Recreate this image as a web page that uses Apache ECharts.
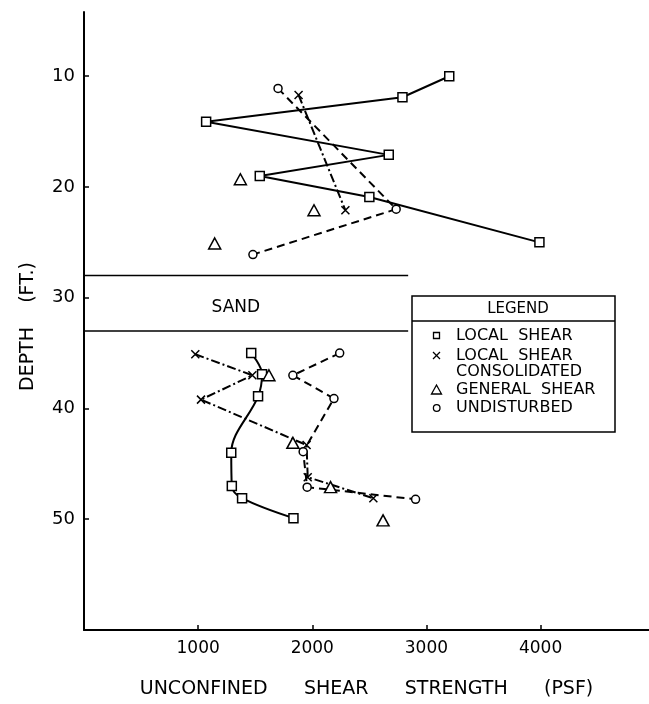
<!DOCTYPE html>
<html>
<head>
<meta charset="utf-8">
<script src="https://cdn.jsdelivr.net/npm/echarts@6/dist/echarts.min.js"></script>
<style>
html,body{margin:0;padding:0;background:#fff;}
#chart{width:649px;height:704px;}
</style>
</head>
<body>
<div id="chart"></div>
<script>
// ---- data (strength in psf, depth in ft) ----
const strengthTicks = [1000, 2000, 3000, 4000];
const depthTicks = [10, 20, 30, 40, 50];

const localShearUpper = [[3200, 10], [2790, 11.9], [1070, 14.1], [2670, 17.1], [1540, 19], [2500, 20.9], [3990, 25]];
const localShearLower = [[1465, 35], [1560, 36.9], [1525, 38.9], [1290, 44], [1295, 47], [1385, 48.1], [1835, 49.9]];
const consolidatedUpper = [[1880, 11.7], [2290, 22.1]];
const consolidatedLower = [[975, 35.1], [1475, 37], [1025, 39.2], [1950, 43.3], [1960, 46.2], [2535, 48.1]];
const generalShear = [[1370, 19.3], [2015, 22.1], [1145, 25.1], [1620, 37], [1830, 43.1], [2160, 47.1], [2620, 50.1]];
const undisturbedUpper = [[1700, 11.1], [2735, 22], [1480, 26.1]];
const undisturbedLower = [[2240, 35], [1830, 37], [2190, 39.1], [1920, 43.9], [1955, 47.1], [2905, 48.2]];

const sandTopDepth = 28;
const sandBottomDepth = 33;
const sandExtent = [0, 2840];
const sandLabelPoint = [1330, 30.9];

const legendTitle = 'LEGEND';
const legendNames = ['LOCAL  SHEAR', 'LOCAL  SHEAR\nCONSOLIDATED', 'GENERAL  SHEAR', 'UNDISTURBED'];

// ---- styles ----
const FONT = 'DejaVu Sans';
const black = '#000';
const symStyle = { color: '#fff', borderColor: black, borderWidth: 1.5, opacity: 1 };
const xSymbol = 'path://M0,0L10,10M10,0L0,10';
const solid = { color: black, width: 2, type: 'solid' };
const dashed = { color: black, width: 2, type: [8, 5] };
const dashDot = { color: black, width: 2, type: [9, 3, 2, 3] };

function lineSeries(data, symbol, size, ls, smooth) {
  return {
    type: 'line', data: data, symbol: symbol, symbolSize: size,
    itemStyle: symStyle, lineStyle: ls, smooth: smooth || false,
    showAllSymbol: true, z: 3, silent: true
  };
}

const chart = echarts.init(document.getElementById('chart'), null, { renderer: 'canvas' });
chart.setOption({
  animation: false,
  backgroundColor: '#fff',
  grid: { left: 84, right: 0, top: 12, bottom: 67, containLabel: false },
  xAxis: {
    type: 'value', min: 0, max: 4950,
    axisLine: { show: true, lineStyle: { color: black, width: 2 } },
    axisTick: { show: true, inside: true, length: 5, customValues: strengthTicks, lineStyle: { color: black, width: 1.5 } },
    axisLabel: { customValues: strengthTicks, formatter: function (v) { return String(v); }, color: black, fontFamily: FONT, fontSize: 17, margin: 10 },
    splitLine: { show: false },
    name: 'UNCONFINED      SHEAR      STRENGTH      (PSF)',
    nameLocation: 'middle', nameGap: 50,
    nameTextStyle: { color: black, fontFamily: FONT, fontSize: 19 }
  },
  yAxis: {
    type: 'value', inverse: true, min: 4.2, max: 60,
    axisLine: { show: true, lineStyle: { color: black, width: 2 } },
    axisTick: { show: true, inside: true, length: 5, customValues: depthTicks, lineStyle: { color: black, width: 1.5 } },
    axisLabel: { customValues: depthTicks, formatter: function (v) { return String(v); }, color: black, fontFamily: FONT, fontSize: 18, margin: 9 },
    splitLine: { show: false },
    name: 'DEPTH    (FT.)',
    nameLocation: 'middle', nameGap: 46, nameRotate: 90,
    nameTextStyle: { color: black, fontFamily: FONT, fontSize: 19, padding: [0, 11, 0, 0] }
  },
  series: [
    // sand layer boundaries
    { type: 'line', data: [[sandExtent[0], sandTopDepth], [sandExtent[1], sandTopDepth]], symbol: 'none', lineStyle: { color: black, width: 1.5 }, z: 2, silent: true },
    { type: 'line', data: [[sandExtent[0], sandBottomDepth], [sandExtent[1], sandBottomDepth]], symbol: 'none', lineStyle: { color: black, width: 1.5 }, z: 2, silent: true },
    { type: 'scatter', data: [sandLabelPoint], symbolSize: 0, silent: true, itemStyle: { color: black, opacity: 1 },
      label: { show: true, position: 'inside', formatter: 'SAND', color: black, opacity: 1, textBorderWidth: 0, fontFamily: FONT, fontSize: 17 } },
    // local shear
    lineSeries(localShearUpper, 'rect', 9, solid),
    lineSeries(localShearLower, 'rect', 9, solid, 0.35),
    // local shear consolidated
    lineSeries(consolidatedUpper, xSymbol, 8, dashDot),
    lineSeries(consolidatedLower, xSymbol, 8, dashDot),
    // undisturbed
    lineSeries(undisturbedUpper, 'circle', 8, dashed),
    lineSeries(undisturbedLower, 'circle', 8, dashed),
    // general shear
    { type: 'scatter', data: generalShear, symbol: 'triangle', symbolSize: [12, 11], itemStyle: symStyle, z: 4, silent: true }
  ],
  graphic: [
    { type: 'rect', shape: { x: 412, y: 296, width: 203, height: 136 }, style: { fill: '#fff', stroke: black, lineWidth: 1.5 }, z: 10 },
    { type: 'line', shape: { x1: 412, y1: 321, x2: 615, y2: 321 }, style: { stroke: black, lineWidth: 1.5 }, z: 11 },
    { type: 'text', x: 518, y: 309, style: { text: legendTitle, font: '15px "DejaVu Sans"', fill: black, align: 'center', verticalAlign: 'middle' }, z: 11 },
    // legend symbols
    { type: 'rect', shape: { x: 433.5, y: 332.5, width: 6, height: 6 }, style: { fill: '#fff', stroke: black, lineWidth: 1.3 }, z: 11 },
    { type: 'polyline', shape: { points: [[433, 352], [440, 359]] }, style: { stroke: black, lineWidth: 1.3 }, z: 11 },
    { type: 'polyline', shape: { points: [[440, 352], [433, 359]] }, style: { stroke: black, lineWidth: 1.3 }, z: 11 },
    { type: 'polygon', shape: { points: [[436.5, 385], [431.5, 394], [441.5, 394]] }, style: { fill: '#fff', stroke: black, lineWidth: 1.3 }, z: 11 },
    { type: 'circle', shape: { cx: 436.7, cy: 408, r: 3.3 }, style: { fill: '#fff', stroke: black, lineWidth: 1.3 }, z: 11 },
    // legend labels
    { type: 'text', x: 456, y: 336, style: { text: legendNames[0], font: '16px "DejaVu Sans"', fill: black, align: 'left', verticalAlign: 'middle' }, z: 11 },
    { type: 'text', x: 456, y: 348, style: { text: legendNames[1], font: '16px "DejaVu Sans"', lineHeight: 16, fill: black, align: 'left', verticalAlign: 'top' }, z: 11 },
    { type: 'text', x: 456, y: 390, style: { text: legendNames[2], font: '16px "DejaVu Sans"', fill: black, align: 'left', verticalAlign: 'middle' }, z: 11 },
    { type: 'text', x: 456, y: 408, style: { text: legendNames[3], font: '16px "DejaVu Sans"', fill: black, align: 'left', verticalAlign: 'middle' }, z: 11 }
  ]
});
</script>
</body>
</html>
